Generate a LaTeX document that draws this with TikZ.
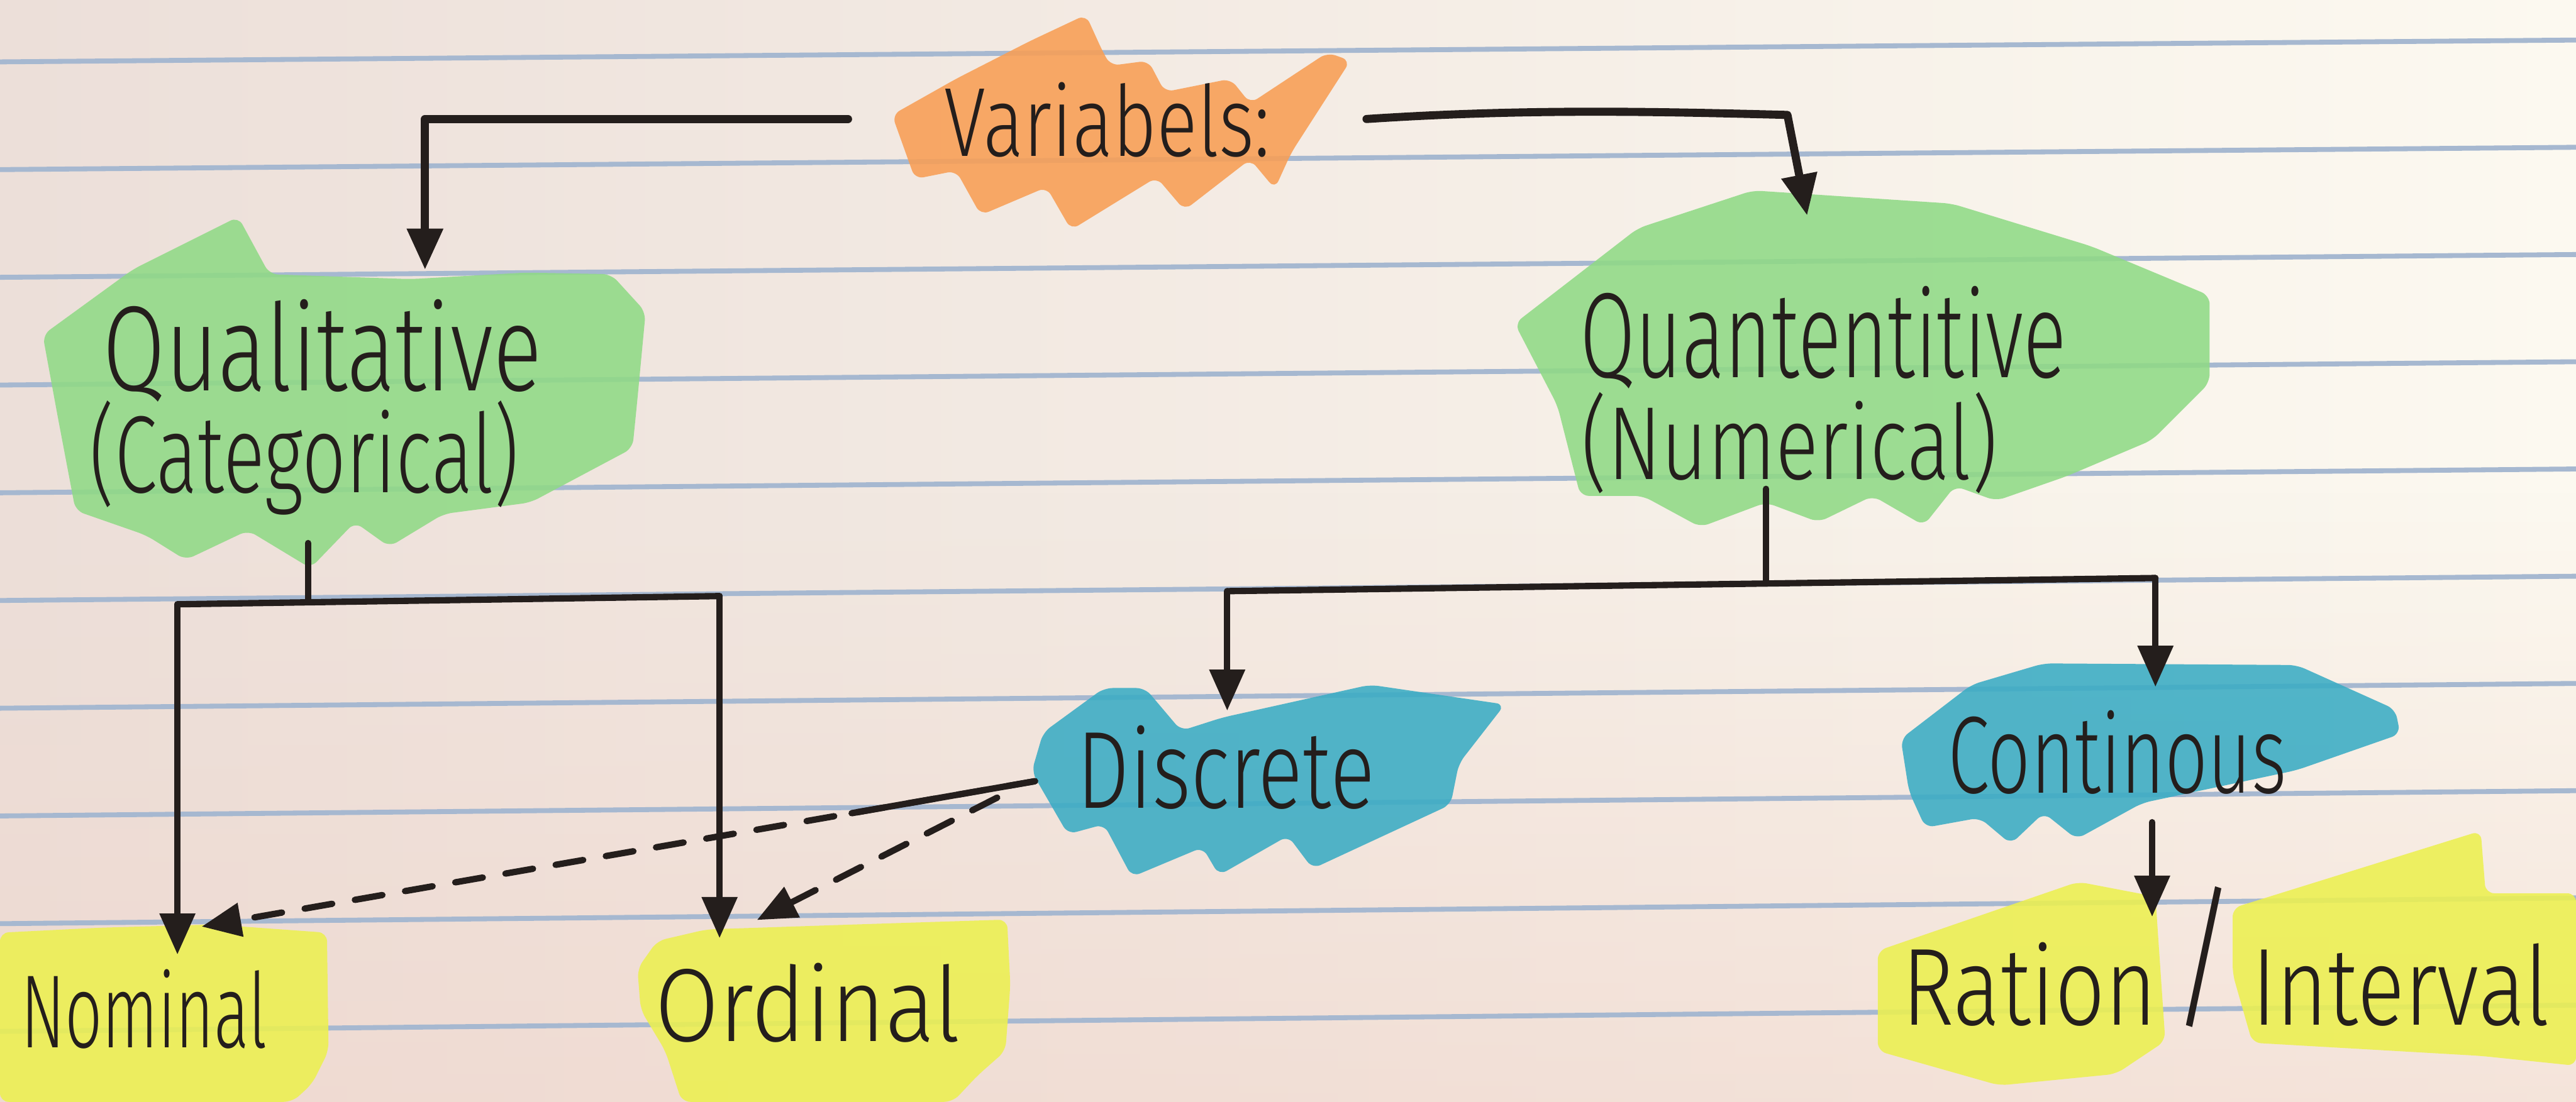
\documentclass[tikz,border=0pt]{standalone}
\usepackage{fontspec}
\setmainfont{Fira Sans Light}
\usepackage{graphicx}
\usetikzlibrary{arrows.meta,calc,fadings}

% paper, ruling, ink and highlighter colours
\definecolor{paperL}{RGB}{236,223,217}
\definecolor{paperR}{RGB}{252,249,240}
\definecolor{paperB}{RGB}{240,214,204}
\definecolor{rule}{RGB}{166,184,208}
\definecolor{ink}{RGB}{36,30,28}
\definecolor{hlorange}{RGB}{248,158,84}
\definecolor{hlgreen}{RGB}{144,218,134}
\definecolor{hlteal}{RGB}{58,172,196}
\definecolor{hlyellow}{RGB}{236,240,80}

% handwritten word: size, target width, text
\newcommand{\hw}[3]{\fontsize{#1}{#1}\selectfont\resizebox{#2}{\height}{#3}}

\tikzset{
  word/.style={inner sep=0pt, text=ink, anchor=base west, text depth=0pt},
  wire/.style={draw=ink, line width=1.1pt, line cap=round, line join=round},
  arr/.style={wire, -{Triangle[length=0.25cm,width=0.21cm]}},
  dasharr/.style={wire, dash pattern=on 0.17cm off 0.14cm, -{Triangle[length=0.24cm,width=0.2cm]}},
  marker/.style={opacity=0.88, rounded corners=1.5pt},
}

\begin{document}
\begin{tikzpicture}[x=0.01cm,y=-0.01cm]
\useasboundingbox (0,0) rectangle (1568,671);

% lined paper
\shade[left color=paperL, right color=paperR] (0,0) rectangle (1568,671);
\fill[paperB, path fading=north, opacity=0.6] (0,300) rectangle (1568,671);
\foreach \i in {0,...,9}
  \draw[rule, line width=0.85pt] (0,{37.7+65.6*\i}) -- (1568,{24.4+65.3*\i});

% highlighter patches
\fill[hlorange, marker] (543,70) -- (582,48) -- (627,25) -- (661,9) -- (671,31) -- (676,40)
  -- (699,37) -- (709,56) -- (749,48) -- (761,63) -- (808,32) -- (822,37) -- (786,93)
  -- (776,115) -- (761,97) -- (721,128) -- (704,108) -- (652,140) -- (637,114)
  -- (597,131) -- (582,104) -- (557,109) -- cycle;
\fill[hlgreen, marker] (26,204) -- (81,164) -- (145,132) -- (164,167) -- (250,170)
  -- (320,166) -- (372,167) -- (393,190) -- (388,243) -- (385,273) -- (323,306)
  -- (270,313) -- (237,333) -- (216,318) -- (189,346) -- (151,323) -- (113,341)
  -- (89,326) -- (46,311) -- (35,253) -- cycle;
\fill[hlgreen, marker] (922,197) -- (997,139) -- (1067,116) -- (1188,124) -- (1273,150)
  -- (1345,180) -- (1345,233) -- (1310,268) -- (1258,290) -- (1215,305) -- (1190,296)
  -- (1171,320) -- (1140,302) -- (1107,318) -- (1075,306) -- (1035,321) -- (1000,302)
  -- (962,302) -- (948,247) -- cycle;
\fill[hlteal, marker] (628,470) -- (635,446) -- (672,419) -- (697,419) -- (719,445)
  -- (744,437) -- (834,417) -- (916,429) -- (888,465) -- (883,490) -- (799,529)
  -- (784,509) -- (742,533) -- (732,516) -- (689,534) -- (672,502) -- (650,508) -- cycle;
\fill[hlteal, marker] (1157,450) -- (1200,417) -- (1244,404) -- (1398,405) -- (1458,432)
  -- (1461,447) -- (1398,469) -- (1304,489) -- (1264,511) -- (1244,495) -- (1224,514)
  -- (1205,498) -- (1172,504) -- (1162,482) -- cycle;
\fill[hlyellow, marker] (0,568) -- (60,565) -- (130,563) -- (199,568) -- (200,640)
  -- (190,660) -- (178,671) -- (0,671) -- cycle;
\fill[hlyellow, marker] (390,615) -- (388,590) -- (400,573) -- (430,566) -- (520,563)
  -- (613,560) -- (615,600) -- (612,640) -- (595,655) -- (580,671) -- (415,671)
  -- (405,640) -- cycle;
\fill[hlyellow, marker] (1143,579) -- (1265,537) -- (1312,546) -- (1318,634) -- (1288,654)
  -- (1217,661) -- (1143,640) -- cycle;
\fill[hlyellow, marker] (1359,553) -- (1510,506) -- (1513,544) -- (1568,544) -- (1568,649)
  -- (1510,643) -- (1371,635) -- (1359,593) -- cycle;

% words
\node[word, anchor=base, text height=0.45cm, minimum width=3.14cm] (var) at (674,95)
  {\hw{17pt}{1.98cm}{Variabels:}};
\node[word, text height=0.73cm] (qual1) at (62,238) {\hw{21pt}{2.67cm}{Qualitative}};
\node[word, text height=0.5cm, text depth=0.3cm] (qual2) at (54,300)
  {\hw{19pt}{2.61cm}{(Categorical)}};
\node[word, text height=0.98cm] (quant1) at (961,230) {\hw{21pt}{2.96cm}{Quantentitive}};
\node[word, text height=0.5cm, text depth=0.05cm] (quant2) at (962,292)
  {\hw{18pt}{2.53cm}{(Numerical)}};
\node[word, text height=0.585cm] (disc) at (655,492) {\hw{19pt}{1.81cm}{Discrete}};
\node[word, text height=0.64cm, text depth=0.17cm] (cont) at (1185,483)
  {\hw{19pt}{2.06cm}{Continous}};
\node[word, text height=0.56cm] (nom) at (12,638) {\hw{18pt}{1.50cm}{Nominal}};
\node[word, text height=0.62cm] (ord) at (398,634) {\hw{18pt}{1.86cm}{Ordinal}};
\node[word, text height=0.65cm] (rat) at (1157,624)
  {\hw{19pt}{3.94cm}{Ration\,\raisebox{0.12em}{\fontsize{27pt}{27pt}\selectfont /}\,Interval}};

% branch points
\coordinate (qx) at (258.7,0);
\coordinate (vr) at (1088,70);
\coordinate (qtx) at (1100,0);
\coordinate (qj) at (187.5,366);
\coordinate (qbl) at (108,368);
\coordinate (qbr) at (438,363);
\coordinate (nj) at (1075,355);
\coordinate (nbl) at (747,360);
\coordinate (nbr) at (1312,352);
\coordinate (cx) at (1310,0);

% tree connectors
\draw[arr, line width=1.4pt] (var.west) -| (qual1.north -| qx);
\draw[arr, line width=1.4pt] (var.east) .. controls (930,66) and (1010,68) .. (vr)
  -- (quant1.north -| qtx);
\draw[wire] (qual2.south -| qj) -- (qj);
\draw[wire] (qbl) -- (qbr);
\draw[arr] (qbl) -- (nom.north -| qbl);
\draw[arr] (qbr) -- (ord.north -| qbr);
\draw[wire] (quant2.south -| nj) -- (nj);
\draw[wire] (nbl) -- (nbr);
\draw[arr] (nbl) -- (disc.north -| nbl);
\draw[arr] (nbr) -- (cont.north -| nbr);
\draw[arr] (cont.south -| cx) -- (rat.north -| cx);

% dashed links from Discrete
\coordinate (d1s) at ([shift={(-0.25cm,-0.13cm)}]disc.west);
\coordinate (d2s) at ([shift={(-0.48cm,-0.23cm)}]disc.west);
\coordinate (d1e) at ([shift={(0.35cm,0.17cm)}]nom.north);
\coordinate (d2e) at ([shift={(-0.31cm,0.11cm)}]ord.north);
\draw[dasharr] (d1s) -- (d1e);
\draw[wire] (d1s) -- ($(d1s)!0.22!(d1e)$);
\draw[dasharr] (d2s) -- (d2e);
\end{tikzpicture}
\end{document}
